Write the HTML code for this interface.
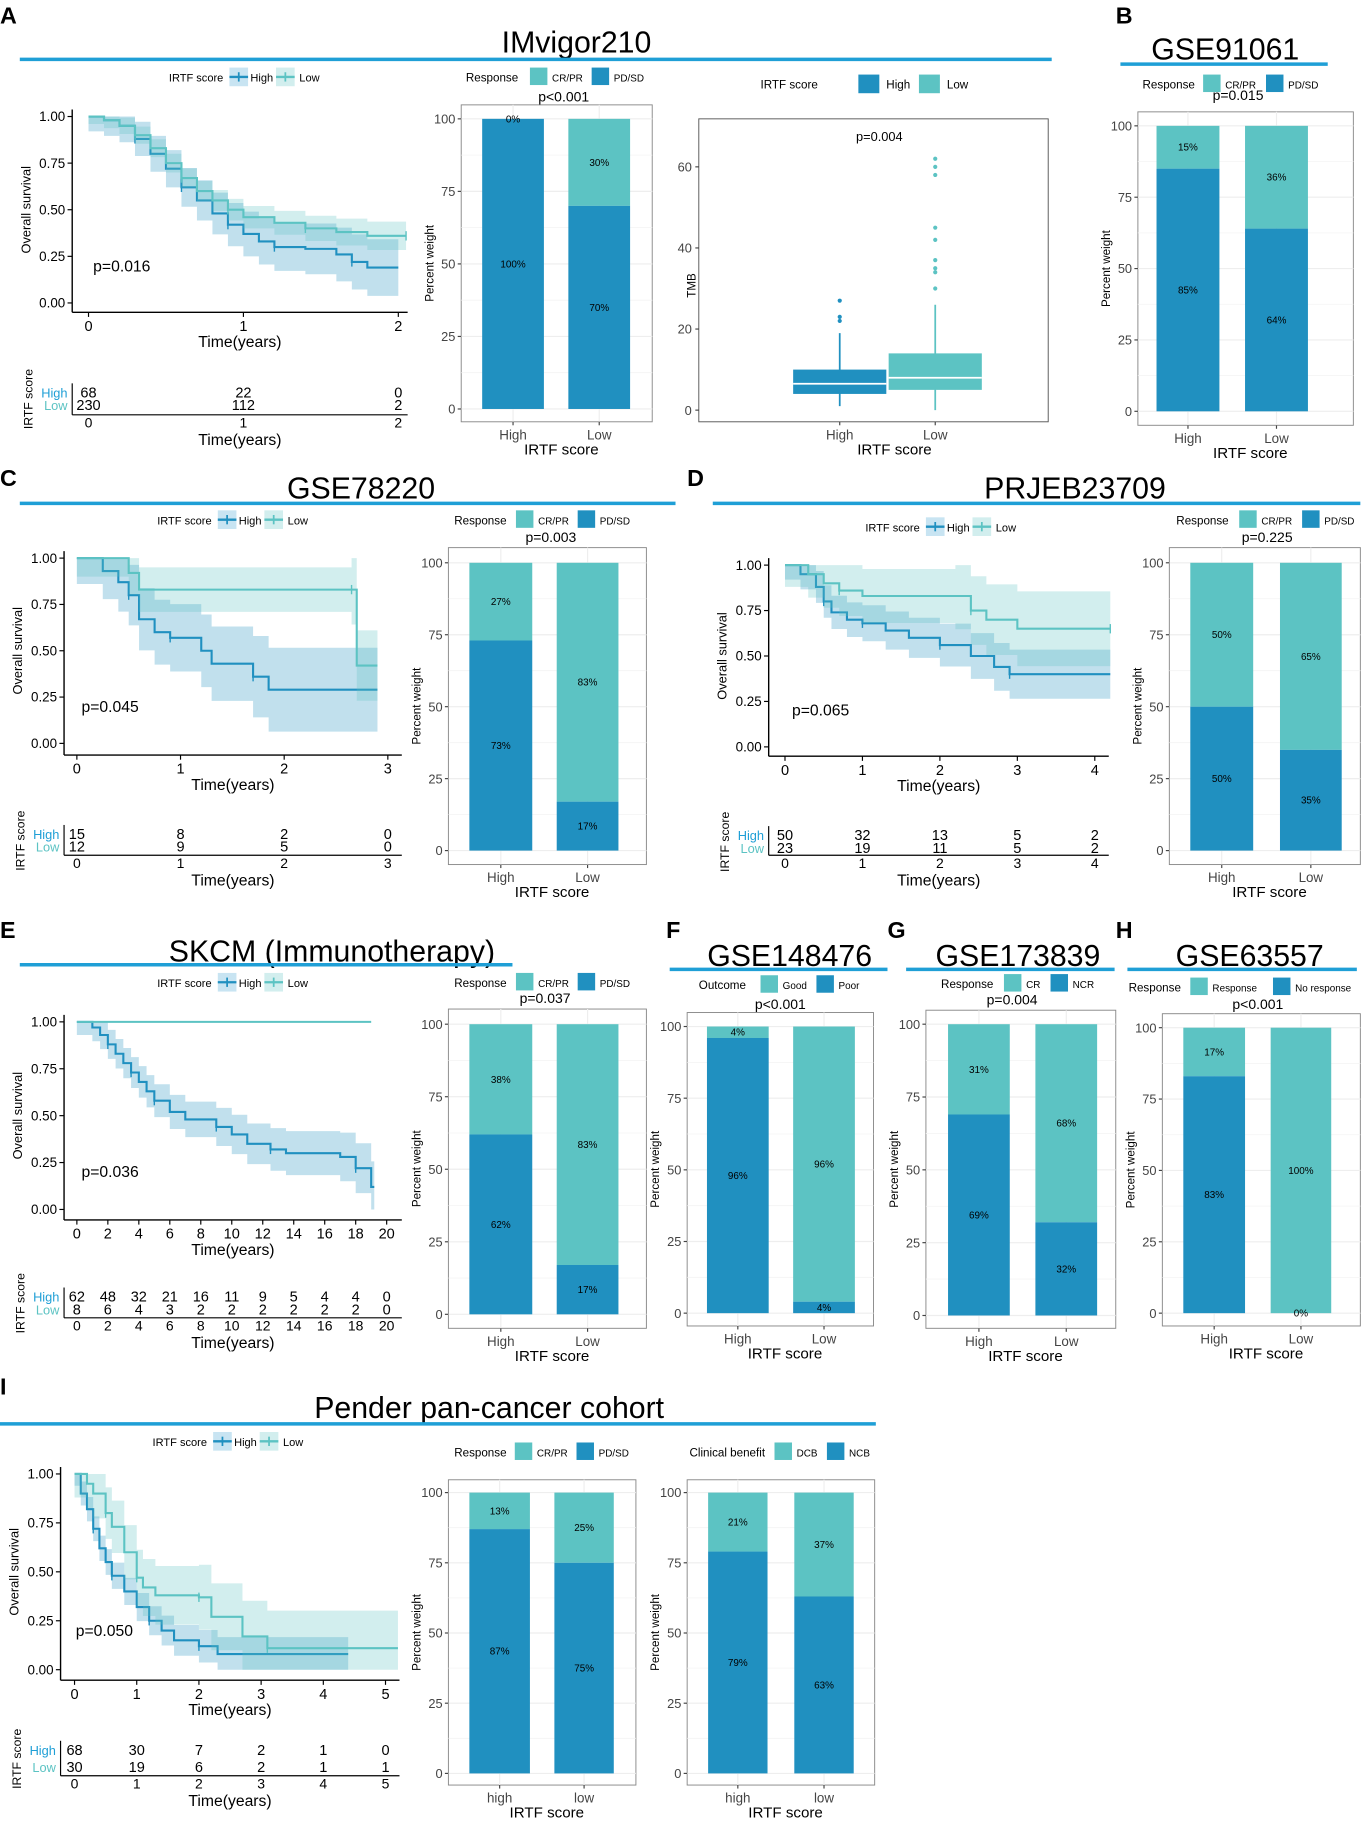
<!DOCTYPE html>
<html><head><meta charset="utf-8"><style>
html,body{margin:0;padding:0;background:#fff}
svg{display:block;font-family:"Liberation Sans",Arial,sans-serif}
</style></head><body>
<svg id="fig" width="1365" height="1827" viewBox="0 0 1172 1568" preserveAspectRatio="none" xmlns="http://www.w3.org/2000/svg"></svg>
<script>
// ---------- DATA ----------
const kmA_high=[[0,1],[0.1,0.98],[0.2,0.95],[0.3,0.88],[0.4,0.8],[0.5,0.72],[0.6,0.62],[0.7,0.55],[0.8,0.48],[0.9,0.42],[1.0,0.37],[1.1,0.33],[1.2,0.3],[1.4,0.29],[1.6,0.26],[1.7,0.22],[1.8,0.19],[2.0,0.19]];
const kmA_low=[[0,1],[0.1,0.98],[0.2,0.95],[0.3,0.9],[0.4,0.83],[0.5,0.75],[0.6,0.67],[0.7,0.6],[0.8,0.55],[0.9,0.5],[1.0,0.46],[1.2,0.43],[1.4,0.4],[1.6,0.38],[1.8,0.36],[2.05,0.36]];
const kmC_high=[[0,1],[0.25,0.93],[0.4,0.87],[0.5,0.8],[0.6,0.67],[0.75,0.6],[0.9,0.57],[1.2,0.5],[1.3,0.43],[1.7,0.36],[1.85,0.29],[2.9,0.29]];
const kmC_low=[[0,1],[0.5,0.92],[0.6,0.83],[2.65,0.83],[2.7,0.42],[2.9,0.42]];
const kmD_high=[[0,1],[0.2,0.95],[0.4,0.88],[0.5,0.8],[0.6,0.74],[0.8,0.7],[1,0.68],[1.3,0.64],[1.6,0.6],[2,0.56],[2.4,0.5],[2.7,0.44],[2.9,0.4],[4.2,0.4]];
const kmD_low=[[0,1],[0.3,0.95],[0.5,0.9],[0.7,0.86],[1,0.83],[2.2,0.83],[2.4,0.75],[2.6,0.7],[3,0.65],[4.2,0.65]];
const kmE_high=[[0,1],[1,0.97],[1.5,0.93],[2,0.88],[2.5,0.83],[3,0.78],[3.5,0.73],[4,0.68],[4.5,0.63],[5,0.58],[6,0.52],[7,0.48],[9,0.44],[10,0.4],[11,0.35],[12.5,0.32],[13.5,0.3],[17,0.28],[18,0.22],[19,0.12],[19.2,0.12]];
const kmE_low=[[0,1],[18.8,1],[19,1]];
const kmI_high=[[0,1],[0.1,0.9],[0.2,0.82],[0.3,0.72],[0.4,0.62],[0.5,0.55],[0.6,0.48],[0.8,0.4],[1,0.32],[1.2,0.25],[1.4,0.2],[1.6,0.15],[2,0.12],[2.3,0.08],[4.4,0.08]];
const kmI_low=[[0,1],[0.2,0.95],[0.3,0.9],[0.5,0.8],[0.6,0.73],[0.8,0.6],[1,0.47],[1.1,0.42],[1.3,0.38],[2,0.37],[2.2,0.27],[2.7,0.17],[3.1,0.11],[5.2,0.11]];
const riskA=[[68,22,0],[230,112,2]];
const riskC=[[15,8,2,0],[12,9,5,0]];
const riskD=[[50,32,13,5,2],[23,19,11,5,2]];
const riskE=[[62,48,32,21,16,11,9,5,4,4,0],[8,6,4,3,2,2,2,2,2,2,0]];
const riskI=[[68,30,7,2,1,0],[30,19,6,2,1,1]];
const barA=[100,70], barB=[85,64], barC=[73,17], barD=[50,35], barE=[62,17];
const barF=[96,4], barG=[69,32], barH=[83,0], barI1=[87,75], barI2=[79,63];
const tmbHigh={lo:1,q1:4,med:6.5,q3:10,hi:19,out:[22,23,27]};
const tmbLow={lo:0,q1:5,med:8,q3:14,hi:26,out:[30,34,35,37,42,45,58,60,62]};
// ---------- HELPERS ----------
const S=document.getElementById('fig'),NS='http://www.w3.org/2000/svg';
const DK='#2090c0',LT='#5cc3c3',LINE='#1f9fd6';
function el(tag,attrs){const e=document.createElementNS(NS,tag);for(const k in attrs)e.setAttribute(k,attrs[k]);S.appendChild(e);return e;}
function tx(x,y,s,size,anchor,name,opts){opts=opts||{};const e=el('text',{x:x,y:y,'font-size':size,'text-anchor':anchor||'start',fill:opts.fill||'#000'});
if(opts.rot)e.setAttribute('transform','rotate(-90 '+x+' '+y+')');
if(opts.bold)e.setAttribute('font-weight','bold');
e.textContent=s;


return e;}
function ln(x1,y1,x2,y2,c,w,name){const e=el('line',{x1:x1,y1:y1,x2:x2,y2:y2,stroke:c,'stroke-width':w});


return e;}
function rc(x,y,w,h,f,name,st){const e=el('rect',{x:x,y:y,width:w,height:h,fill:f});if(st){e.setAttribute('stroke',st);e.setAttribute('stroke-width',0.8);}


return e;}
function title(lbl,lx,ly,t,tx0,ty,x1,x2,y){tx(lx,ly,lbl,20,'start','panel-label-'+lbl,{bold:true});tx(tx0,ty,t,26,'middle','panel-title-'+lbl);ln(x1,y,x2,y,LINE,3,'title-underline-'+lbl);}
function kmLegend(x,y,id){tx(x,y+4,'IRTF score',9.5,'start','km-legend-title-'+id);
rc(x+52,y-8,16,16,'#c8e4f2','km-legend-key-high-'+id);ln(x+52,y,x+68,y,DK,2,'km-legend-line-high-'+id);ln(x+60,y-4,x+60,y+4,DK,1.5,'km-legend-tick-high-'+id);
tx(x+70,y+4,'High',9.5,'start','km-legend-high-'+id);
rc(x+92,y-8,16,16,'#d2eeee','km-legend-key-low-'+id);ln(x+92,y,x+108,y,LT,2,'km-legend-line-low-'+id);ln(x+100,y-4,x+100,y+4,LT,1.5,'km-legend-tick-low-'+id);
tx(x+112,y+4,'Low',9.5,'start','km-legend-low-'+id);}
function km(c){
 const X=t=>c.x0+t*c.ppt, Y=s=>c.y0+(c.y1-c.y0)*s;
 [['high',c.high,DK,'rgba(32,144,192,0.28)',c.ciH],['low',c.low,LT,'rgba(92,195,195,0.28)',c.ciL]].forEach(([nm,d,col,fill,ci])=>{
  if(ci>0){let up='',dn='';
   d.forEach((p,i)=>{const nx=i<d.length-1?d[i+1][0]:p[0];const u=Math.min(1,p[1]+ci*(1+p[0]/c.xmax)),l=Math.max(0,p[1]-ci*(1+p[0]/c.xmax));
    up+=(i?'L':'M')+X(p[0])+','+Y(u)+'L'+X(nx)+','+Y(u);dn=' L'+X(nx)+','+Y(l)+' L'+X(p[0])+','+Y(l)+dn;});
   const b=el('path',{d:up+dn+'Z',fill:fill,stroke:'none'});
   
   }
  let p='';d.forEach((q,i)=>{p+=(i?'L'+X(q[0])+','+Y(d[i-1][1])+'L':'M')+X(q[0])+','+Y(q[1]);});
  const e=el('path',{d:p,fill:'none',stroke:col,'stroke-width':1.8});
  
  
  d.forEach((q,i)=>{if(i>0&&i%3==0){ln(X(q[0]),Y(q[1])-4,X(q[0]),Y(q[1])+4,col,1.2,'censor-mark-'+nm+'-'+c.id);}});
 });
 ln(c.ax,c.y1-6,c.ax,c.ab,'#000',1.2,'km-y-axis-'+c.id);ln(c.ax,c.ab,c.xr,c.ab,'#000',1.2,'km-x-axis-'+c.id);
 [0,0.25,0.5,0.75,1].forEach(v=>{ln(c.ax-4,Y(v),c.ax,Y(v),'#000',1,'km-y-tick');tx(c.ax-6,Y(v)+4,v.toFixed(2),11.5,'end','km-y-tick-label');});
 c.ticks.forEach(t=>{ln(X(t),c.ab,X(t),c.ab+4,'#000',1,'km-x-tick');tx(X(t),c.ab+16,String(t),12.5,'middle','km-x-tick-label');});
 tx(c.ax-36,(c.y1+c.y0)/2,'Overall survival',11,'middle','km-y-axis-title-'+c.id,{rot:1});
 tx((c.ax+c.xr)/2,c.ab+30,'Time(years)',13.5,'middle','km-x-axis-title-'+c.id);
 tx(c.px,c.py,c.p,13.5,'start','km-p-value-'+c.id);
 const r=c.risk; tx(c.ax-34,(c.rh+c.rl)/2,'IRTF score',10.5,'middle','risk-table-title-'+c.id,{rot:1});
 tx(c.ax-4,c.rh+4,'High',11,'end','risk-label-high-'+c.id,{fill:LINE});tx(c.ax-4,c.rl+4,'Low',11,'end','risk-label-low-'+c.id,{fill:LT});
 ln(c.ax,c.rh-8,c.ax,c.rb,'#000',1,'risk-y-axis-'+c.id);ln(c.ax,c.rb,c.xr,c.rb,'#000',1,'risk-x-axis-'+c.id);
 c.rticks.forEach((t,i)=>{tx(X(t),c.rh+4,String(r[0][i]),12.5,'middle','risk-count-high');tx(X(t),c.rl+4,String(r[1][i]),12.5,'middle','risk-count-low');
  tx(X(t),c.rb+11,String(t),12,'middle','risk-x-tick-label');});
 tx((c.ax+c.xr)/2,c.rb+26,'Time(years)',13.5,'middle','risk-x-axis-title-'+c.id);
}
function bar(c){
 const Y=v=>c.b0+(c.t100-c.b0)*v/100;
 rc(c.box[0],c.box[1],c.box[2]-c.box[0],c.box[3]-c.box[1],'#fff','bar-plot-panel-'+c.id,'#888');
 [0,25,50,75,100].forEach(v=>{ln(c.box[0],Y(v),c.box[2],Y(v),'#eee',1,'bar-gridline');ln(c.box[0]-3,Y(v),c.box[0],Y(v),'#444',1,'bar-y-tick');tx(c.box[0]-5,Y(v)+4,String(v),11,'end','bar-y-tick-label',{fill:'#444'});});
 [12.5,37.5,62.5,87.5].forEach(v=>ln(c.box[0],Y(v),c.box[2],Y(v),'#f4f4f4',0.7,'bar-minor-gridline'));
 c.vals.forEach((v,i)=>{const [x0,x1]=c.bx[i];
  ln((x0+x1)/2,c.box[1],(x0+x1)/2,c.box[3],'#eee',1,'bar-x-gridline');
  rc(x0,Y(100),x1-x0,Y(v)-Y(100),LT,'bar-segment-top-'+c.cats[i].toLowerCase()+'-'+c.id);
  rc(x0,Y(v),x1-x0,Y(0)-Y(v),DK,'bar-segment-bottom-'+c.cats[i].toLowerCase()+'-'+c.id);
  tx((x0+x1)/2,(Y(100)+Y(v))/2+3,(100-v)+'%',8.5,'middle','bar-label-top');
  tx((x0+x1)/2,(Y(v)+Y(0))/2+3,v+'%',8.5,'middle','bar-label-bottom');
  ln((x0+x1)/2,c.box[3],(x0+x1)/2,c.box[3]+3,'#444',1,'bar-x-tick');
  tx((x0+x1)/2,c.box[3]+15,c.cats[i],11.5,'middle','bar-x-tick-label',{fill:'#444'});});
 tx(c.box[0]-24,(c.box[1]+c.box[3])/2,'Percent weight',10,'middle','bar-y-axis-title-'+c.id,{rot:1});
 tx((c.box[0]+c.box[2])/2+4,c.box[3]+28,'IRTF score',13,'middle','bar-x-axis-title-'+c.id);
 tx(c.px,c.py,c.p,12,'middle','bar-p-value-'+c.id);
 const L=c.leg; tx(L[0],L[1]+4,L[2],10,'start','bar-legend-title-'+c.id);
 rc(L[3],L[1]-8,15,15,LT,'bar-legend-key-top-'+c.id);tx(L[3]+19,L[1]+4,L[4],8.5,'start','bar-legend-top-'+c.id);
 rc(L[5],L[1]-8,15,15,DK,'bar-legend-key-bottom-'+c.id);tx(L[5]+19,L[1]+4,L[6],8.5,'start','bar-legend-bottom-'+c.id);
}
// ---------- PANEL A ----------
title('A',0,20,'IMvigor210',495,45,17,903,51);
kmLegend(145,66,'a');
km({id:'a',x0:76,ppt:133,y1:100,y0:260,ax:62,ab:268,xr:350,xmax:2,ticks:[0,1,2],high:kmA_high,low:kmA_low,ciH:0.08,ciL:0.04,p:'p=0.016',px:80,py:233,
 risk:riskA,rticks:[0,1,2],rh:337,rl:348,rb:356});
bar({id:'a',box:[396,90,560,362],t100:102,b0:351,bx:[[414,467],[488,541]],vals:barA,cats:['High','Low'],p:'p<0.001',px:484,py:87,leg:[400,66,'Response',455,'CR/PR',508,'PD/SD']});
(function(){const Y=v=>352-v*3.48;const box=[600,102,900,362];
 rc(box[0],box[1],box[2]-box[0],box[3]-box[1],'#fff','tmb-plot-panel','#555');
 [0,20,40,60].forEach(v=>{ln(box[0]-3,Y(v),box[0],Y(v),'#444',1,'tmb-y-tick');tx(box[0]-6,Y(v)+4,String(v),11,'end','tmb-y-tick-label',{fill:'#444'});});
 [[721,tmbHigh,DK,'high','High'],[803,tmbLow,LT,'low','Low']].forEach(([cx,d,col,nm,lab])=>{
  ln(cx,Y(d.lo),cx,Y(d.hi),col,1.5,'tmb-whisker-'+nm);
  rc(cx-40,Y(d.q3),80,Y(d.q1)-Y(d.q3),col,'tmb-box-'+nm);
  ln(cx-40,Y(d.med),cx+40,Y(d.med),'#fff',1.5,'tmb-median-'+nm);
  d.out.forEach(o=>{const c=el('circle',{cx:cx,cy:Y(o),r:1.8,fill:col});
   
   });
  ln(cx,box[3],cx,box[3]+3,'#444',1,'tmb-x-tick');tx(cx,box[3]+15,lab,11.5,'middle','tmb-x-tick-label',{fill:'#444'});});
 tx(597,245,'TMB',10,'middle','tmb-y-axis-title',{rot:1});tx(768,390,'IRTF score',13,'middle','tmb-x-axis-title');
 tx(755,121,'p=0.004',11,'middle','tmb-p-value');
 tx(653,76,'IRTF score',10,'start','tmb-legend-title');rc(737,64,18,16,DK,'tmb-legend-key-high');tx(761,76,'High',10,'start','tmb-legend-high');
 rc(789,64,18,16,LT,'tmb-legend-key-low');tx(813,76,'Low',10,'start','tmb-legend-low');})();
// ---------- PANEL B ----------
title('B',958,20,'GSE91061',1052,51,962,1140,55);
bar({id:'b',box:[977,96,1162,365],t100:108,b0:353,bx:[[993,1047],[1069,1123]],vals:barB,cats:['High','Low'],p:'p=0.015',px:1063,py:86,leg:[981,72,'Response',1033,'CR/PR',1087,'PD/SD']});
// ---------- PANEL C ----------
title('C',0,417,'GSE78220',310,428,17,580,432);
kmLegend(135,446,'c');
km({id:'c',x0:66,ppt:89,y1:479,y0:638,ax:55,ab:648,xr:345,xmax:3,ticks:[0,1,2,3],high:kmC_high,low:kmC_low,ciH:0.14,ciL:0.1,p:'p=0.045',px:70,py:611,
 risk:riskC,rticks:[0,1,2,3],rh:716,rl:727,rb:734});
bar({id:'c',box:[385,470,555,742],t100:483,b0:730,bx:[[403,457],[478,531]],vals:barC,cats:['High','Low'],p:'p=0.003',px:473,py:465,leg:[390,446,'Response',443,'CR/PR',496,'PD/SD']});
// ---------- PANEL D ----------
title('D',590,417,'PRJEB23709',923,428,612,1168,432);
kmLegend(743,452,'d');
km({id:'d',x0:674,ppt:66.5,y1:485,y0:641,ax:660,ab:649,xr:952,xmax:4.2,ticks:[0,1,2,3,4],high:kmD_high,low:kmD_low,ciH:0.08,ciL:0.12,p:'p=0.065',px:680,py:614,
 risk:riskD,rticks:[0,1,2,3,4],rh:717,rl:728,rb:734});
bar({id:'d',box:[1004,470,1168,742],t100:483,b0:730,bx:[[1022,1076],[1099,1152]],vals:barD,cats:['High','Low'],p:'p=0.225',px:1088,py:465,leg:[1010,446,'Response',1064,'CR/PR',1118,'PD/SD']});
// ---------- PANEL E ----------
title('E',0,805,'SKCM (Immunotherapy)',285,825,17,440,828);
kmLegend(135,843,'e');
km({id:'e',x0:66,ppt:13.3,y1:877,y0:1038,ax:55,ab:1047,xr:345,xmax:20,ticks:[0,2,4,6,8,10,12,14,16,18,20],high:kmE_high,low:kmE_low,ciH:0.07,ciL:0,p:'p=0.036',px:70,py:1010,
 risk:riskE,rticks:[0,2,4,6,8,10,12,14,16,18,20],rh:1113,rl:1124,rb:1131});
bar({id:'e',box:[385,866,555,1140],t100:879,b0:1128,bx:[[403,457],[478,531]],vals:barE,cats:['High','Low'],p:'p=0.037',px:468,py:861,leg:[390,843,'Response',443,'CR/PR',496,'PD/SD']});
// ---------- F G H ----------
title('F',572,805,'GSE148476',678,829,575,762,832);
bar({id:'f',box:[590,869,750,1138],t100:881,b0:1127,bx:[[607,660],[681,734]],vals:barF,cats:['High','Low'],p:'p<0.001',px:670,py:866,leg:[600,845,'Outcome',653,'Good',701,'Poor']});
title('G',762,805,'GSE173839',874,829,778,957,832);
bar({id:'g',box:[795,867,958,1140],t100:879,b0:1129,bx:[[814,867],[889,942]],vals:barG,cats:['High','Low'],p:'p=0.004',px:869,py:862,leg:[808,844,'Response',862,'CR',902,'NCR']});
title('H',958,805,'GSE63557',1073,829,968,1165,832);
bar({id:'h',box:[998,870,1168,1138],t100:882,b0:1127,bx:[[1016,1069],[1091,1143]],vals:barH,cats:['High','Low'],p:'p<0.001',px:1080,py:866,leg:[969,847,'Response',1022,'Response',1093,'No response']});
// ---------- PANEL I ----------
title('I',0,1197,'Pender pan-cancer cohort',420,1217,0,752,1222);
kmLegend(131,1237,'i');
km({id:'i',x0:64,ppt:53.4,y1:1265,y0:1433,ax:52,ab:1442,xr:343,xmax:5.2,ticks:[0,1,2,3,4,5],high:kmI_high,low:kmI_low,ciH:0.06,ciL:0.12,p:'p=0.050',px:65,py:1404,
 risk:riskI,rticks:[0,1,2,3,4,5],rh:1502,rl:1517,rb:1524});
bar({id:'i1',box:[385,1270,546,1532],t100:1281,b0:1522,bx:[[403,455],[476,527]],vals:barI1,cats:['high','low'],p:'',px:0,py:0,leg:[390,1246,'Response',442,'CR/PR',495,'PD/SD']});
bar({id:'i2',box:[590,1270,751,1532],t100:1281,b0:1522,bx:[[608,659],[682,733]],vals:barI2,cats:['high','low'],p:'',px:0,py:0,leg:[592,1246,'Clinical benefit',665,'DCB',710,'NCB']});
</script>
</body></html>
